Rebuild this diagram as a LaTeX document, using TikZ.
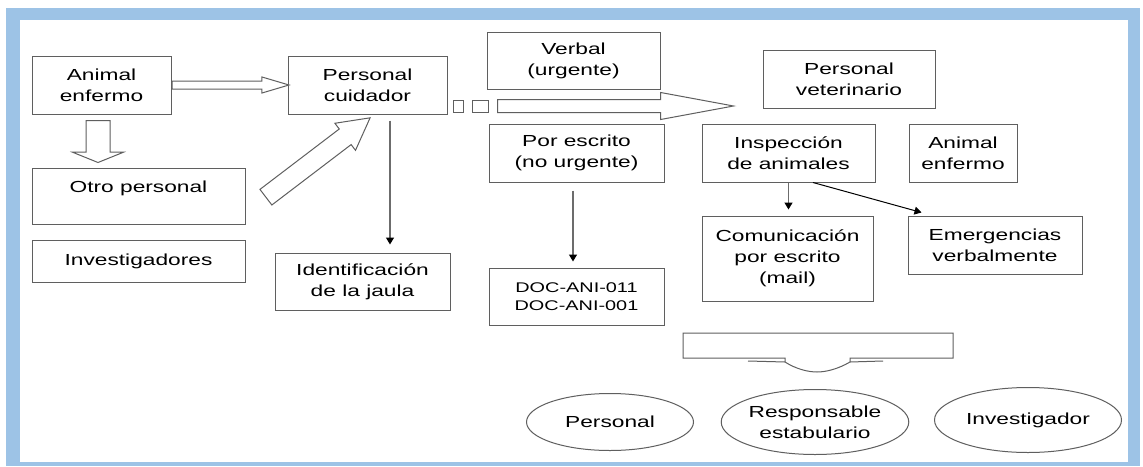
\documentclass[tikz,border=0pt]{standalone}
\usepackage{fontspec}
\setmainfont[FakeStretch=1.42]{Liberation Sans}
\usepackage{tikz}
\usetikzlibrary{arrows.meta,shapes.arrows,shapes.geometric,calc}
\definecolor{frameblue}{RGB}{157,195,230}
\definecolor{edgegray}{RGB}{95,95,95}

\begin{document}
\begin{tikzpicture}[x=1pt,y=-1pt,>={Triangle[length=7pt,width=8pt,color=black]},
    box/.style={draw=edgegray, line width=1pt, align=center, inner sep=0pt,
      font=\fontsize{16}{21}\selectfont},
    oval/.style={box, ellipse},
    blockarrow/.style={single arrow, draw=edgegray, line width=1pt, fill=white, inner xsep=0pt, anchor=tail},
    conn/.style={->, draw=gray!85!black, line width=1.4pt}]
  \useasboundingbox (0,0) rectangle (1143,466);
  \fill[frameblue] (6,8) rectangle (1140,466);
  \fill[white] (20,20) rectangle (1128,462);

  % left column
  \node[box, minimum width=139pt, minimum height=58pt] (ae1)  at (101.5,85)  {Animal\\enfermo};
  \node[box, minimum width=159pt, minimum height=58pt] (pc)   at (367.5,85)  {Personal\\cuidador};
  \node[box, minimum width=213pt, minimum height=56pt, text depth=18pt] (otro) at (138.5,196) {Otro personal};
  \node[box, minimum width=213pt, minimum height=42pt] (inv)  at (138.5,261) {Investigadores};
  \node[box, minimum width=175pt, minimum height=57pt] (idj)  at (362.5,281.5) {Identificación\\de la jaula};

  % middle column
  \node[box, minimum width=173pt, minimum height=57pt] (verb) at (573.5,60.5) {Verbal\\(urgente)};
  \node[box, minimum width=175pt, minimum height=58pt] (esc)  at (576.5,153)  {Por escrito\\(no urgente)};
  \node[box, minimum width=175pt, minimum height=57pt, font=\fontsize{14}{18}\selectfont] (doc) at (576.5,296.5) {DOC-ANI-011\\DOC-ANI-001};

  % right column
  \node[box, minimum width=172pt, minimum height=58pt] (vet)  at (849,79)     {Personal\\veterinario};
  \node[box, minimum width=173pt, minimum height=58pt] (insp) at (788.5,153)  {Inspección\\de animales};
  \node[box, minimum width=108pt, minimum height=58pt] (ae2)  at (963,153)    {Animal\\enfermo};
  \node[box, minimum width=171pt, minimum height=85pt] (com)  at (787.5,258.5) {Comunicación\\por escrito\\(mail)};
  \node[box, minimum width=174pt, minimum height=58pt] (emg)  at (995,245)    {Emergencias\\verbalmente};

  \node[oval, minimum width=167pt, minimum height=57pt] (per)  at (610,422)  {Personal};
  \node[oval, minimum width=185pt, minimum height=65pt] (resp) at (815,422)  {Responsable\\estabulario};
  \node[oval, minimum width=187pt, minimum height=65pt] (invg) at (1028,420) {Investigador};

  % block arrows
  \node[blockarrow, minimum height=117pt, inner ysep=3.5pt, single arrow head extend=4pt,
    single arrow tip angle=33] (a1) at (ae1.east) {};
  \node[blockarrow, rotate=-90, minimum height=42pt, inner ysep=11.5pt, single arrow head extend=13.5pt,
    single arrow tip angle=136] (a2) at (98,120) {};
  \node[blockarrow, rotate=37.3, minimum height=131pt, inner ysep=9.3pt, single arrow head extend=7.2pt,
    single arrow tip angle=57] (a3) at (265.5,197.5) {};
  \node[draw=edgegray, line width=1pt, minimum width=10pt, minimum height=12pt, inner sep=0pt] (sq1) at (458,106) {};
  \node[draw=edgegray, line width=1pt, minimum width=16pt, minimum height=12pt, inner sep=0pt] (sq2) at (480,106) {};
  \node[blockarrow, minimum height=236pt, inner ysep=6pt, single arrow head extend=7pt,
    single arrow tip angle=21] (a4) at (497,106) {};

  % callout
  \draw[edgegray, line width=1pt] (683,333) -- (953,333) -- (953,358) -- (850,358) -- (850,362)
    .. controls (838,369) and (826,372) .. (817,372)
    .. controls (808,372) and (796,369) .. (785,362) -- (785,358) -- (683,358) -- cycle;
  \draw[edgegray, line width=1pt] (748,361) -- (785,362) (850,362) -- (883,361);

  % connectors
  \draw[conn, shorten >=8pt] ([xshift=22.5pt,yshift=-6pt]pc.south) -- ([xshift=22.5pt]pc.south |- idj.north);
  \draw[conn, shorten <=8pt, shorten >=6pt] ([xshift=-3.5pt]esc.south) -- ([xshift=-3.5pt]doc.north);
  \draw[conn, shorten >=6pt] (insp.south) -- (insp.south |- com.north);
  \draw[conn, draw=black, line width=1pt] ([xshift=24.5pt]insp.south) -- ([xshift=14pt,yshift=3pt]emg.north west);
\end{tikzpicture}
\end{document}
